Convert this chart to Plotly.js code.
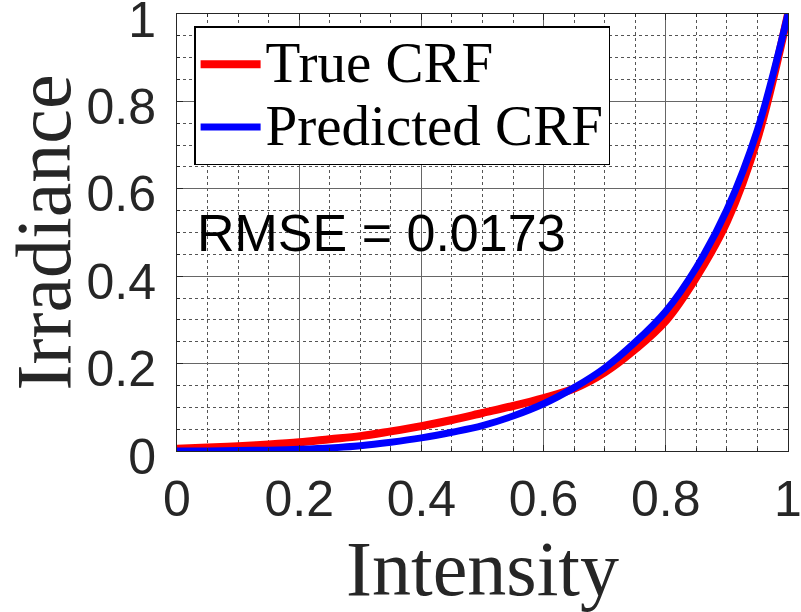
<!DOCTYPE html>
<html>
<head>
<meta charset="utf-8">
<script src="https://cdn.plot.ly/plotly-3.0.1.min.js"></script>
<style>
  html, body { margin: 0; padding: 0; background: #ffffff; }
  #grafico { width: 801px; height: 612px; }
</style>
</head>
<body>
<div id="grafico"></div>
<script>
// intensity samples
let intensidad = [0, 0.05, 0.1, 0.15, 0.2, 0.25, 0.3, 0.35, 0.4, 0.45, 0.5,
                  0.55, 0.6, 0.65, 0.7, 0.75, 0.8, 0.85, 0.9, 0.95, 1];
// irradiance
let crfReal = [0.005, 0.008, 0.011, 0.015, 0.02, 0.027, 0.034, 0.045, 0.057, 0.071, 0.087,
               0.103, 0.121, 0.143, 0.18, 0.233, 0.298, 0.398, 0.525, 0.715, 1.0];
let crfPred = [0.0, 0.0, 0.001, 0.002, 0.004, 0.007, 0.012, 0.02, 0.03, 0.043, 0.058,
               0.08, 0.108, 0.145, 0.19, 0.249, 0.32, 0.42, 0.552, 0.735, 1.0];
let nombres = ['True CRF', 'Predicted CRF'];
let textoRmse = 'RMSE = 0.0173';
let marcas = [0, 0.2, 0.4, 0.6, 0.8, 1];
let etiquetas = ['0', '0.2', '0.4', '0.6', '0.8', '1'];

// legend text a bit bigger than the row height font
function nombreLeyenda(n) {
    return '<span style="font-size:57px">' + n + '</span>';
}

let graf1 =
{
    x: intensidad,
    y: crfReal,
    name: nombreLeyenda(nombres[0]),
    type: 'scatter',
    mode: 'lines',
    line: {color: '#ff0000', width: 8, shape: 'spline', smoothing: 1}
}
let graf2 =
{
    x: intensidad,
    y: crfPred,
    name: nombreLeyenda(nombres[1]),
    type: 'scatter',
    mode: 'lines',
    line: {color: '#0000ff', width: 7, shape: 'spline', smoothing: 1}
}

let ejeComun = {
    range: [0, 1],
    tickvals: marcas,
    ticktext: etiquetas,
    ticks: 'inside',
    ticklen: 6,
    tickcolor: '#262626',
    showline: true,
    linecolor: '#262626',
    linewidth: 1,
    mirror: 'ticks',
    showgrid: true,
    gridcolor: '#666666',
    gridwidth: 1,
    zeroline: false,
    ticklabeloverflow: 'allow',
    tickfont: {family: 'Liberation Sans, Arial, sans-serif', size: 50, color: '#262626'},
    minor: {dtick: 0.05, tick0: 0, showgrid: true, griddash: 'dot', gridcolor: '#555555',
            gridwidth: 1, ticks: 'inside', ticklen: 3, tickcolor: '#262626'}
}

let layout1 =
{
    width: 801,
    height: 612,
    margin: {l: 177, r: 13, t: 14, b: 161},
    paper_bgcolor: '#ffffff',
    plot_bgcolor: '#ffffff',
    xaxis: Object.assign({}, ejeComun, {
        title: {text: 'Intensity', standoff: 8,
                font: {family: 'Liberation Serif, Times New Roman, serif', size: 78, color: '#262626'}},
        ticklabelstandoff: 4
    }),
    yaxis: Object.assign({}, ejeComun, {
        title: {text: 'Irradiance', standoff: 24,
                font: {family: 'Liberation Serif, Times New Roman, serif', size: 78, color: '#262626'}},
        ticklabelstandoff: 10,
        ticklabelshift: 5
    }),
    showlegend: true,
    legend: {
        x: 0.028, y: 0.972, xanchor: 'left', yanchor: 'top',
        bgcolor: '#ffffff', bordercolor: '#000000', borderwidth: 1.5,
        font: {family: 'Liberation Serif, Times New Roman, serif', size: 46, color: '#000000'},
        itemwidth: 60,
        tracegroupgap: 0
    },
    annotations: [{
        text: textoRmse,
        xref: 'x', yref: 'y',
        x: 0.03, y: 0.5,
        xanchor: 'left', yanchor: 'middle',
        showarrow: false,
        font: {family: 'Liberation Sans, Arial, sans-serif', size: 52, color: '#000000'}
    }]
}

let contenedor = document.getElementById('grafico');
Plotly.newPlot(contenedor, [graf1, graf2], layout1, {displayModeBar: false});
</script>
</body>
</html>
